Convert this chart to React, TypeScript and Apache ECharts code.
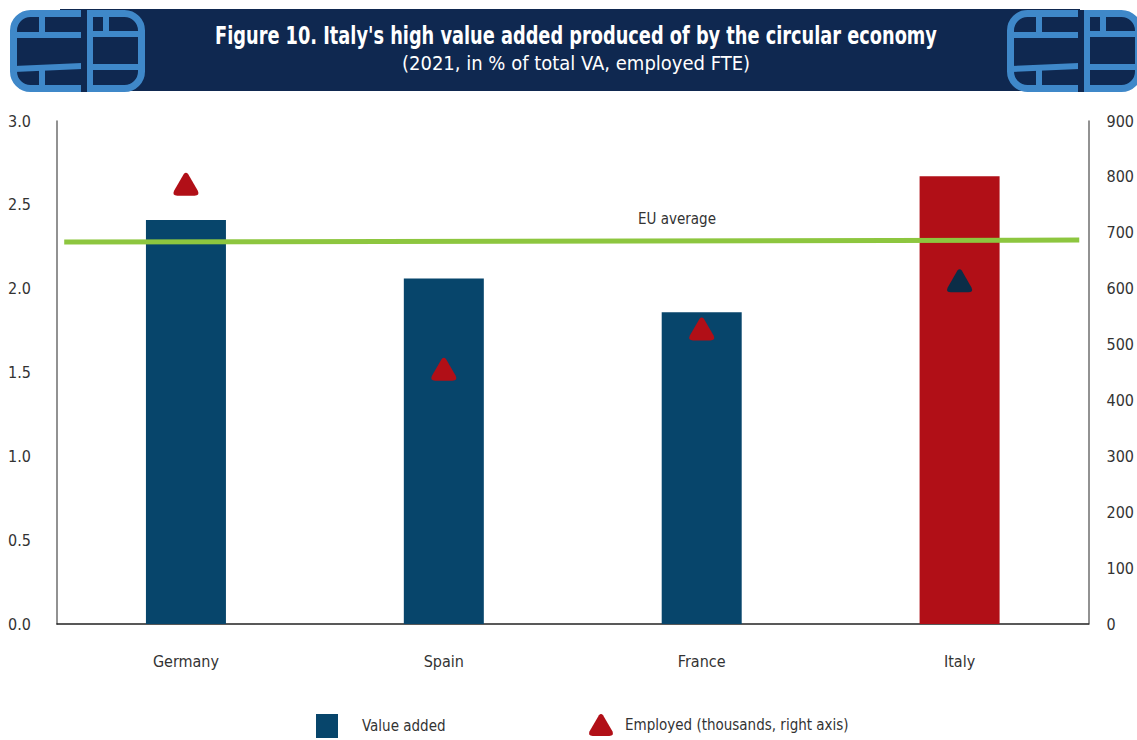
import React, { useEffect, useRef } from "react";
import * as echarts from "echarts";

const categories = ["Germany", "Spain", "France", "Italy"];
const valueAdded = [2.41, 2.06, 1.86, 2.67];
const employed = [787, 456, 528, 614];
const euAverage: [number, number][] = [[0.007, 2.278], [0.991, 2.29]];
const leftTicks = { min: 0, max: 3, interval: 0.5 };
const rightTicks = { min: 0, max: 900, interval: 100 };

const FONT = "'Liberation Sans Narrow', 'DejaVu Sans Condensed', 'Roboto', sans-serif";
const NAVY = "#0f2850";
const LOGO = "#3f88c9";
const BAR = "#07456b";
const RED = "#b10f17";
const DARK = "#0b2d47";
const GREEN = "#8dc63f";
const TEXT = "#333333";

const TRI = "path://M10,1.5 Q12,-0.8 14,1.5 L23,17 Q25,21.5 20,21.5 L4,21.5 Q-1,21.5 1,17 Z";

function logo(ox: number) {
  const s = { stroke: LOGO, lineWidth: 7, fill: NAVY } as any;
  const l = (x1: number, y1: number, x2: number, y2: number, w = 6) => ({
    type: "line",
    shape: { x1: x1 + ox, y1, x2: x2 + ox, y2 },
    style: { stroke: LOGO, lineWidth: w },
  });
  return [
    { type: "rect", shape: { x: 13.5 + ox, y: 13.5, width: 128, height: 75, r: 17 }, style: s },
    l(14, 35, 82, 35),
    l(42, 12, 42, 35),
    l(14, 69, 82, 66),
    l(42, 66, 42, 90),
    { type: "rect", shape: { x: 81 + ox, y: 10, width: 6, height: 82 }, style: { fill: NAVY } },
    l(90, 11, 90, 91, 6),
    l(90, 34, 140, 34),
    l(90, 67, 140, 67),
    l(106, 12, 106, 34),
  ];
}

export default function App() {
  const ref = useRef<HTMLDivElement>(null);
  useEffect(() => {
    const chart = echarts.init(ref.current!, null, { renderer: "svg" });
    chart.setOption({
      animation: false,
      backgroundColor: "#ffffff",
      textStyle: { fontFamily: FONT },
      grid: { left: 57, right: 41, top: 121, bottom: 116 },
      graphic: [
        { type: "rect", shape: { x: 60, y: 9, width: 1020, height: 82 }, style: { fill: NAVY } },
        ...logo(0),
        ...logo(997),
        {
          type: "text",
          x: 576,
          y: 35,
          scaleX: 0.79,
          style: {
            text: "Figure 10. Italy's high value added produced of by the circular economy",
            fill: "#ffffff",
            font: `bold 25px ${FONT}`,
            align: "center",
            verticalAlign: "middle",
          },
        },
        {
          type: "text",
          x: 576,
          y: 63,
          style: {
            text: "(2021, in % of total VA, employed FTE)",
            fill: "#ffffff",
            font: `20px ${FONT}`,
            align: "center",
            verticalAlign: "middle",
          },
        },
        {
          type: "text",
          x: 677,
          y: 219,
          style: {
            text: "EU average",
            fill: TEXT,
            font: `15px ${FONT}`,
            align: "center",
            verticalAlign: "middle",
          },
        },
      ],
      legend: [
        {
          data: [{ name: "Value added", icon: "rect" }],
          left: 311,
          top: 709,
          itemWidth: 22,
          itemHeight: 24,
          textStyle: { color: TEXT, fontSize: 15, fontFamily: FONT, padding: [0, 0, 0, 19] },
          selectedMode: false,
        },
        {
          data: [{ name: "Employed (thousands, right axis)", icon: TRI, itemStyle: { color: RED, opacity: 1 } }],
          left: 584,
          top: 709,
          itemWidth: 24,
          itemHeight: 23,
          textStyle: { color: TEXT, fontSize: 15, fontFamily: FONT, padding: [0, 0, 0, 7] },
          selectedMode: false,
        },
      ],
      xAxis: [
        {
          type: "category",
          data: categories,
          axisLine: { lineStyle: { color: "#222", width: 1.5 } },
          axisTick: { show: false },
          axisLabel: { color: TEXT, fontSize: 16, margin: 29, fontFamily: FONT },
        },
        { type: "value", min: 0, max: 1, show: false },
      ],
      yAxis: [
        {
          type: "value",
          ...leftTicks,
          axisLine: { show: true, lineStyle: { color: "#6e6e6e", width: 1.5 } },
          axisTick: { show: false },
          splitLine: { show: false },
          axisLabel: {
            color: TEXT,
            fontSize: 16,
            margin: 26,
            fontFamily: FONT,
            formatter: (v: number) => v.toFixed(1),
          },
        },
        {
          type: "value",
          ...rightTicks,
          position: "right",
          axisLine: { show: true, lineStyle: { color: "#6e6e6e", width: 1.5 } },
          axisTick: { show: false },
          splitLine: { show: false },
          axisLabel: { color: TEXT, fontSize: 16, margin: 18, fontFamily: FONT },
        },
      ],
      series: [
        {
          name: "Value added",
          type: "bar",
          barWidth: 80,
          data: valueAdded.map((v, i) => ({
            value: v,
            itemStyle: { color: categories[i] === "Italy" ? RED : BAR },
          })),
          itemStyle: { color: BAR },
          z: 2,
        },
        {
          name: "EU average",
          type: "line",
          xAxisIndex: 1,
          yAxisIndex: 0,
          data: euAverage,
          symbol: "none",
          lineStyle: { color: GREEN, width: 5 },
          z: 3,
        },
        {
          name: "Employed (thousands, right axis)",
          type: "scatter",
          yAxisIndex: 1,
          symbol: TRI,
          symbolSize: [25, 23],
          data: employed.map((v, i) => ({
            value: v,
            itemStyle: { color: categories[i] === "Italy" ? DARK : RED, opacity: 1 },
          })),
          itemStyle: { color: RED, opacity: 1 },
          z: 4,
        },
      ],
    });
    return () => chart.dispose();
  }, []);
  return <div ref={ref} style={{ width: 1137, height: 740, position: "absolute", left: 0, top: 0 }} />;
}
